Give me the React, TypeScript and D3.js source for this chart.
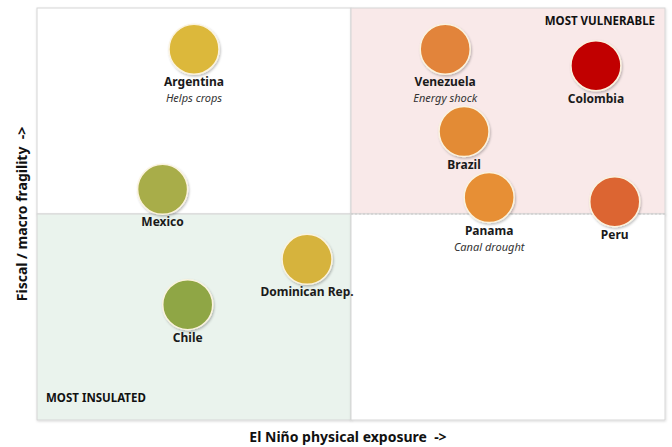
import React from "react";
import * as d3 from "d3";

// country positions: x = El Niño physical exposure, y = fiscal / macro fragility (0-10)
const countries = ["Argentina", "Mexico", "Chile", "Dominican Rep.", "Venezuela", "Brazil", "Panama", "Colombia", "Peru"];
const exposure = [2.5, 2.0, 2.4, 4.3, 6.5, 6.8, 7.2, 8.9, 9.2];
const fragility = [9.0, 5.6, 2.8, 3.9, 9.0, 7.0, 5.4, 8.6, 5.3];
const notes = ["Helps crops", "", "", "", "Energy shock", "", "Canal drought", "", ""];
const colors = ["#dcb83a", "#a8ad48", "#8fa645", "#d6b33c", "#e2843a", "#e38b36", "#e78f35", "#c10000", "#dc6531"];

const W = 672;
const H = 447;
const left = 37, right = 665, top = 8, bottom = 420;
const font = "'Noto Sans', 'Open Sans', sans-serif";

export default function App() {
  const x = d3.scaleLinear().domain([0, 10]).range([left, right]);
  const y = d3.scaleLinear().domain([0, 10]).range([bottom, top]);
  const r = 25;
  const mx = x(5), my = y(5);

  const quads = [
    {x0: left, y0: top, x1: mx, y1: my, fill: "#ffffff"},
    {x0: mx, y0: top, x1: right, y1: my, fill: "#f9e9e9"},
    {x0: left, y0: my, x1: mx, y1: bottom, fill: "#eaf3ed"},
    {x0: mx, y0: my, x1: right, y1: bottom, fill: "#ffffff"},
  ];

  return (
    <svg width={W} height={H} style={{position: "absolute", left: 0, top: 0, fontFamily: font}}>
      <defs>
        <filter id="sh" x="-20%" y="-20%" width="140%" height="140%">
          <feDropShadow dx="1" dy="1.5" stdDeviation="1.2" floodColor="#000" floodOpacity="0.25" />
        </filter>
        <filter id="qs" x="-5%" y="-5%" width="110%" height="110%">
          <feDropShadow dx="0.5" dy="1" stdDeviation="0.8" floodColor="#000" floodOpacity="0.15" />
        </filter>
      </defs>
      <rect width={W} height={H} fill="#ffffff" />
      {quads.map((q, i) => (
        <rect key={i} x={q.x0} y={q.y0} width={q.x1 - q.x0} height={q.y1 - q.y0}
          fill={q.fill} stroke="#d6d6d6" strokeWidth={1} filter="url(#qs)" />
      ))}
      <line x1={mx} x2={right} y1={my} y2={my} stroke="#c8c8c8" strokeDasharray="2,2" />

      <text x={right - 10} y={25} textAnchor="end" fontSize={11.5} fontWeight="bold" fill="#111">MOST VULNERABLE</text>
      <text x={left + 9} y={402} fontSize={11.5} fontWeight="bold" fill="#111">MOST INSULATED</text>

      {countries.map((c, i) => {
        const cx = x(exposure[i]);
        const cy = y(fragility[i]);
        return (
          <g key={c}>
            <circle cx={cx} cy={cy} r={r} fill={colors[i]} stroke="#fbf3df" strokeWidth={1.5} filter="url(#sh)" />
            <text x={cx} y={cy + r + 12} textAnchor="middle" fontSize={12} fontWeight="bold" fill="#1a1a1a">{c}</text>
            {notes[i] && (
              <text x={cx} y={cy + r + 28} textAnchor="middle" fontSize={11} fontStyle="italic" fill="#333">{notes[i]}</text>
            )}
          </g>
        );
      })}

      <text x={348} y={442} textAnchor="middle" fontSize={14} fontWeight="bold" fill="#111">
        {"El Niño physical exposure\u00a0\u00a0->"}
      </text>
      <text transform={`translate(27,${(top + bottom) / 2}) rotate(-90)`} textAnchor="middle" fontSize={14} fontWeight="bold" fill="#111">
        {"Fiscal / macro fragility\u00a0\u00a0->"}
      </text>
    </svg>
  );
}
